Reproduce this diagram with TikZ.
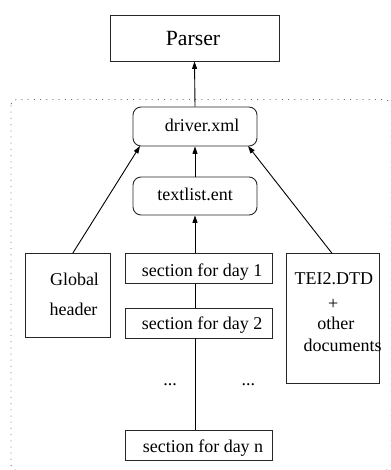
\documentclass[tikz,border=0pt]{standalone}
\usepackage{fontspec}
\setmainfont{Liberation Serif}
\usetikzlibrary{arrows.meta}
\begin{document}
\begin{tikzpicture}[x=1pt,y=-1pt,
  box/.style={draw=black!85,line width=0.9pt,rectangle,inner sep=0pt},
  rbox/.style={box,rounded corners=8pt},
  txt/.style={inner sep=0pt,anchor=base,font=\fontsize{18}{18}\selectfont},
  arr/.style={line width=0.9pt,-{Triangle[length=7.5pt,width=5pt]}},
  ln/.style={line width=0.9pt},
  frame/.style={draw=black!55,line width=0.9pt,dash pattern=on 1pt off 5.2pt,rounded corners=6pt}]
\useasboundingbox (0,0) rectangle (390,470);
\begin{scope}
\clip (0,0) rectangle (390,470);
\draw[frame] (11,99.5) rectangle (390.5,470.5);
\end{scope}
% boxes
\node[box,minimum width=169pt,minimum height=46pt] (parser) at (194.5,38) {};
\node[rbox,minimum width=124pt,minimum height=39pt] (driver) at (195,126.5) {};
\node[rbox,minimum width=124pt,minimum height=38pt] (textlist) at (195,196) {};
\node[box,minimum width=85pt,minimum height=84pt] (global) at (67.7,295.3) {};
\node[box,minimum width=147pt,minimum height=30pt] (day1) at (198.5,268.7) {};
\node[box,minimum width=147pt,minimum height=30pt] (day2) at (198.5,323) {};
\node[box,minimum width=147pt,minimum height=30.7pt] (dayn) at (198.5,445.3) {};
\node[box,minimum width=93pt,minimum height=130pt] (tei) at (332.5,318.3) {};
% texts
\node[txt,font=\fontsize{21.7}{22}\selectfont] (tparser) at (193,46) {Parser};
\node[txt] (tdriver) at (202,131.5) {driver.xml};
\node[txt] (ttextlist) at (195,200.5) {textlist.ent};
\node[txt] (tglobal) at (74.5,285) {Global};
\node[txt] (theader) at (73.5,315) {header};
\node[txt] (tday1) at (202.2,276.3) {section for day 1};
\node[txt] (tday2) at (202.2,329.7) {section for day 2};
\node[txt] (tdayn) at (203,452.7) {section for day n};
\node[txt] (tdotsa) at (170,385) {...};
\node[txt] (tdotsb) at (248.3,385) {...};
\node[txt] (ttei) at (333.8,284.3) {TEI2.DTD};
\node[txt] (tplus) at (333.3,309.5) {+};
\node[txt] (tother) at (335.8,329) {other};
\node[txt] (tdocs) at (342.5,351.7) {documents};
% connectors
\draw[arr] (driver.north) -- (parser.south);
\draw[arr] (textlist.north) -- (driver.south);
\draw[arr] (day1.north -| textlist.south) -- (textlist.south);
\draw[ln] (day1.south -| textlist.south) -- (day2.north -| textlist.south);
\draw[ln] (day2.south -| textlist.south) -- (dayn.north -| textlist.south);
\coordinate (gtop) at (72.7,253.3);
\coordinate (ttop) at (332,253.3);
\coordinate (dl) at (140,146);
\coordinate (dr) at (248,146);
\draw[arr] (gtop) -- (dl);
\draw[arr] (ttop) -- (dr);
\end{tikzpicture}
\end{document}
